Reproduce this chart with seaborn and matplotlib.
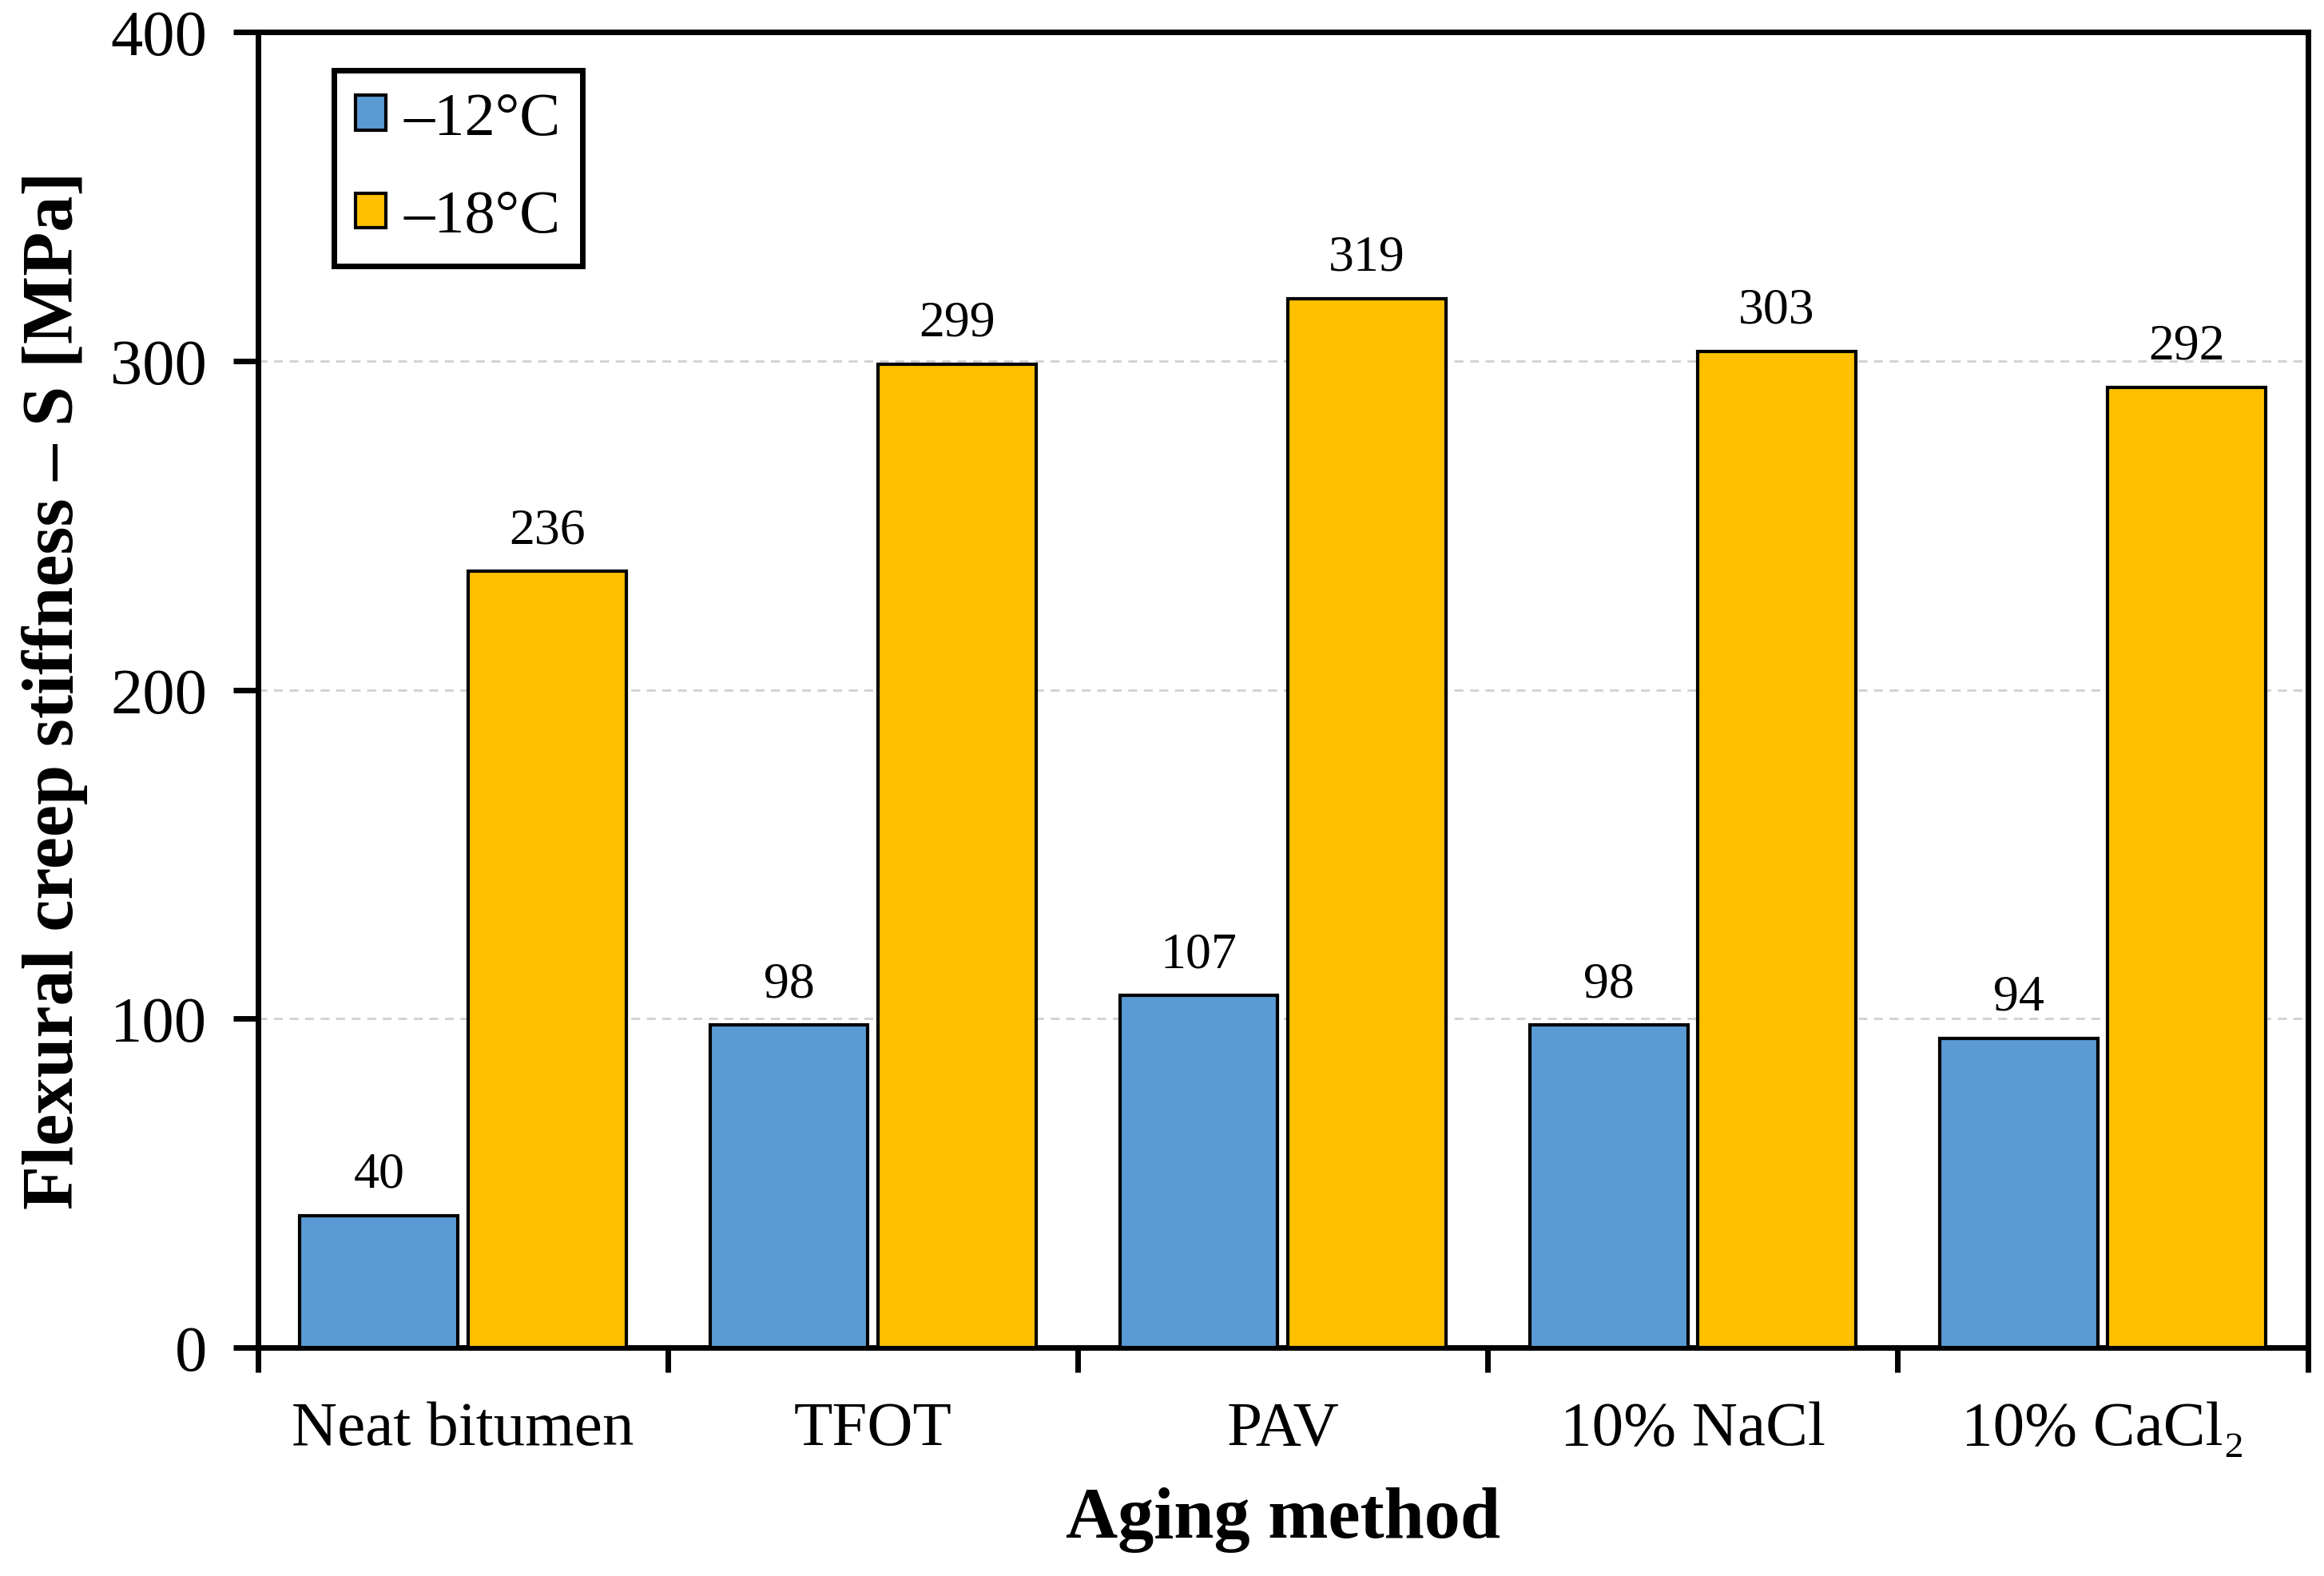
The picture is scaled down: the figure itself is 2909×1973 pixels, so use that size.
import pandas as pd
import seaborn as sns
import matplotlib.pyplot as plt
from matplotlib.ticker import FixedLocator

# --- data ---
methods = ["Neat bitumen", "TFOT", "PAV", "10% NaCl", "10% CaCl\u2082"]
temps = ["\u201312\u00b0C", "\u201318\u00b0C"]
stiff_m12 = [40, 98, 107, 98, 94]
stiff_m18 = [236, 299, 319, 303, 292]
colors = ["#5B9BD5", "#FFC000"]

df = pd.DataFrame({
    "method": methods * 2,
    "temp": [temps[0]] * len(methods) + [temps[1]] * len(methods),
    "S": stiff_m12 + stiff_m18,
})

sns.set_theme(style="white")
plt.rcParams["font.family"] = ["Liberation Serif", "DejaVu Serif"]
plt.rcParams.update({"text.color": "black", "axes.labelcolor": "black",
                     "xtick.color": "black", "ytick.color": "black"})

fig, ax = plt.subplots(figsize=(29.09, 19.74), dpi=100)
fig.subplots_adjust(left=0.111, right=0.993, top=0.979, bottom=0.145)

sns.barplot(data=df, x="method", y="S", hue="temp", palette=colors,
            width=0.82, gap=0.06, edgecolor="black", linewidth=3,
            saturation=1, ax=ax, zorder=3)

for cont in ax.containers:
    ax.bar_label(cont, fmt="%d", padding=16, fontsize=46, color="black")

ax.set_ylim(0, 400)
ax.set_xlim(-0.5, 4.5)
ax.set_yticks([0, 100, 200, 300, 400])
ax.yaxis.grid(True, color="#d0d0d0", linestyle=(0, (4, 3)), linewidth=2, zorder=0)
ax.set_axisbelow(True)

# x ticks sit on the category boundaries
ax.xaxis.set_minor_locator(FixedLocator([-0.5, 0.5, 1.5, 2.5, 3.5, 4.5]))
ax.tick_params(axis="x", which="major", length=0, labelsize=57, pad=48)
ax.tick_params(axis="x", which="minor", length=22, width=5, direction="out", color="black", bottom=True)
ax.tick_params(axis="y", which="major", length=22, width=5, direction="out", color="black",
               labelsize=58, pad=24, left=True)

for sp in ax.spines.values():
    sp.set_linewidth(5)
    sp.set_color("black")

ax.set_xlabel("Aging method", fontsize=65, fontweight="bold", labelpad=26)
ax.set_ylabel("Flexural creep stiffness \u2013 S [MPa]", fontsize=65, fontweight="bold", labelpad=20)

leg = ax.legend(loc="upper left", bbox_to_anchor=(0.037, 0.971), borderaxespad=0,
                fontsize=55, frameon=True, fancybox=False, edgecolor="black", framealpha=1,
                handlelength=0.5, handleheight=0.5, handletextpad=0.3,
                labelspacing=0.7, borderpad=0.35, title=None)
leg.get_frame().set_linewidth(5)

fig.savefig("out.png", dpi=100, facecolor="white")
